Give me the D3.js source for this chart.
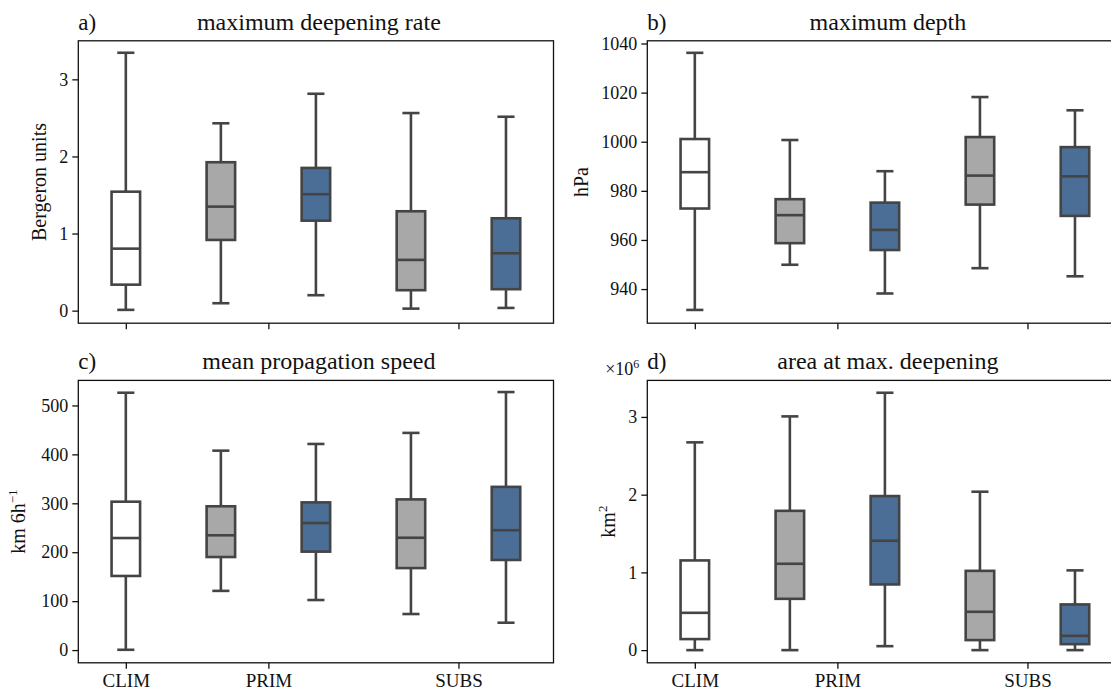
<!DOCTYPE html>
<html>
<head>
<meta charset="utf-8">
<script src="https://cdn.jsdelivr.net/npm/d3@7"></script>
<style>
  html, body { margin: 0; padding: 0; background: #fff; }
  svg { display: block; overflow: hidden; }
  text { font-family: "Liberation Serif", "Times New Roman", Times, "DejaVu Serif", serif; fill: #111; }
</style>
</head>
<body>
<svg id="main-svg"></svg>
<script>
// DATA
const categories = ["CLIM", "PRIM", "SUBS"]
const categoryPositions = [0, 1.5, 3.5]
const boxPositions = [0, 1, 2, 3, 4]
const boxKinds = ["clim", "all", "sel", "all", "sel"]

// [whisker low, q1, median, q3, whisker high]
const rateStats = [
  [0.01, 0.337, 0.804, 1.543, 3.345],
  [0.096, 0.917, 1.349, 1.925, 2.43],
  [0.2, 1.167, 1.51, 1.851, 2.813],
  [0.026, 0.265, 0.658, 1.289, 2.563],
  [0.035, 0.278, 0.744, 1.198, 2.515],
]
const depthStats = [
  [931.5, 972.8, 987.6, 1001.1, 1036.2],
  [949.9, 958.7, 970.1, 976.6, 1000.7],
  [938.2, 955.9, 964.1, 975.2, 988.0],
  [948.5, 974.4, 986.2, 1001.9, 1018.2],
  [945.2, 969.8, 985.9, 997.8, 1012.8],
]
const speedStats = [
  [0.6, 151.5, 229, 303.3, 526],
  [121, 190.2, 234.6, 293.9, 407.6],
  [102.3, 201.2, 259.6, 301.9, 421.3],
  [73.7, 167.6, 229.6, 308, 443.9],
  [55.9, 184.2, 245, 333.6, 527.4],
]
const areaStats = [
  [0, 0.142, 0.48, 1.154, 2.673],
  [0, 0.66, 1.111, 1.792, 3.007],
  [0.051, 0.845, 1.407, 1.982, 3.311],
  [0, 0.129, 0.493, 1.02, 2.038],
  [0, 0.077, 0.184, 0.588, 1.026],
]
const rateTicks = [0, 1, 2, 3]
const depthTicks = [940, 960, 980, 1000, 1020, 1040]
const speedTicks = [0, 100, 200, 300, 400, 500]
const areaTicks = [0, 1, 2, 3]

// FIXED SPACING VARIABLES
const CANVAS_WIDTH = 1111
const CANVAS_HEIGHT = 690
const AXES_WIDTH = 475.2
const AXES_HEIGHT = 282.4
const LEFT_COL_X = 78.3
const RIGHT_COL_X = 647.3
const TOP_ROW_Y = 40.8
const BOTTOM_ROW_Y = 380.4
const BOX_WIDTH = 0.3
const CAP_WIDTH = 0.18
const TICK_LENGTH = 6

// STYLE VARIABLES
const FONT = '"Liberation Serif", "Times New Roman", Times, "DejaVu Serif", serif'
const BOX_FILLS = { clim: "#ffffff", all: "#a8a8a8", sel: "#4b6e96" }
const BOX_LINE_COLOR = "#444444"
const BOX_LINE_WIDTH = 2.6
const AXIS_COLOR = "#111111"

const panels = [
  { letter: "a)", title: "maximum deepening rate", x: LEFT_COL_X, y: TOP_ROW_Y, stats: rateStats,
    domain: [-0.163, 3.5], ticks: rateTicks, label: ["Bergeron units"], labelX: 46, xLabels: false },
  { letter: "b)", title: "maximum depth", x: RIGHT_COL_X, y: TOP_ROW_Y, stats: depthStats,
    domain: [926.1, 1041.1], ticks: depthTicks, label: ["hPa"], labelX: 588, xLabels: false },
  { letter: "c)", title: "mean propagation speed", x: LEFT_COL_X, y: BOTTOM_ROW_Y, stats: speedStats,
    domain: [-26, 551.2], ticks: speedTicks, label: ["km 6h", "\u22121"], labelX: 25, xLabels: true },
  { letter: "d)", title: "area at max. deepening", x: RIGHT_COL_X, y: BOTTOM_ROW_Y, stats: areaStats,
    domain: [-0.163, 3.47], ticks: areaTicks, label: ["km", "2"], labelX: 615, xLabels: true, offset: true },
]

const svg = d3.select("#main-svg")
  .attr("width", CANVAS_WIDTH)
  .attr("height", CANVAS_HEIGHT)

svg.append("rect")
  .attr("width", "100%")
  .attr("height", "100%")
  .attr("fill", "#ffffff")

panels.forEach(drawPanel)

function drawPanel(panel) {
  const x = d3.scaleLinear().domain([-0.5, 4.5]).range([0, AXES_WIDTH])
  const y = d3.scaleLinear().domain(panel.domain).range([AXES_HEIGHT, 0])
  const g = svg.append("g").attr("transform", `translate(${panel.x},${panel.y})`)
  const unit = x(1) - x(0)

  // boxes
  const boxes = g.selectAll("g.box")
    .data(panel.stats)
    .join("g")
    .attr("class", "box")
    .attr("transform", (_, i) => `translate(${x(boxPositions[i])},0)`)

  boxes.append("line")
    .attr("x1", 0).attr("x2", 0)
    .attr("y1", (d) => y(d[0])).attr("y2", (d) => y(d[1]))
  boxes.append("line")
    .attr("x1", 0).attr("x2", 0)
    .attr("y1", (d) => y(d[3])).attr("y2", (d) => y(d[4]))
  boxes.append("line")
    .attr("x1", -CAP_WIDTH * unit / 2).attr("x2", CAP_WIDTH * unit / 2)
    .attr("y1", (d) => y(d[0])).attr("y2", (d) => y(d[0]))
  boxes.append("line")
    .attr("x1", -CAP_WIDTH * unit / 2).attr("x2", CAP_WIDTH * unit / 2)
    .attr("y1", (d) => y(d[4])).attr("y2", (d) => y(d[4]))
  boxes.append("rect")
    .attr("x", -BOX_WIDTH * unit / 2)
    .attr("width", BOX_WIDTH * unit)
    .attr("y", (d) => y(d[3]))
    .attr("height", (d) => y(d[1]) - y(d[3]))
    .attr("fill", (_, i) => BOX_FILLS[boxKinds[i]])
  boxes.append("line")
    .attr("x1", -BOX_WIDTH * unit / 2).attr("x2", BOX_WIDTH * unit / 2)
    .attr("y1", (d) => y(d[2])).attr("y2", (d) => y(d[2]))

  boxes.selectAll("line, rect")
    .attr("stroke", BOX_LINE_COLOR)
    .attr("stroke-width", BOX_LINE_WIDTH)

  // frame
  g.append("rect")
    .attr("width", AXES_WIDTH)
    .attr("height", AXES_HEIGHT)
    .attr("fill", "none")
    .attr("stroke", AXIS_COLOR)
    .attr("stroke-width", 1.3)

  // y axis
  const yAxis = g.append("g")
    .call(d3.axisLeft(y).tickValues(panel.ticks).tickSize(TICK_LENGTH).tickPadding(4).tickFormat(d3.format("d")))
  yAxis.attr("font-family", FONT)
  yAxis.select(".domain").remove()
  yAxis.selectAll(".tick line").attr("stroke", AXIS_COLOR).attr("stroke-width", 1.3)
  yAxis.selectAll(".tick text")
    .attr("fill", "#111")
    .attr("font-family", FONT)
    .attr("font-size", 18)

  // x axis
  const xAxis = g.append("g")
    .attr("transform", `translate(0,${AXES_HEIGHT})`)
    .call(d3.axisBottom(x).tickValues(categoryPositions).tickSize(TICK_LENGTH).tickPadding(5)
      .tickFormat((_, i) => panel.xLabels ? categories[i] : ""))
  xAxis.attr("font-family", FONT)
  xAxis.select(".domain").remove()
  xAxis.selectAll(".tick line").attr("stroke", AXIS_COLOR).attr("stroke-width", 1.3)
  xAxis.selectAll(".tick text")
    .attr("fill", "#111")
    .attr("font-family", FONT)
    .attr("font-size", 19)

  // title and panel letter
  g.append("text")
    .attr("x", AXES_WIDTH / 2 + 3)
    .attr("y", -11)
    .attr("text-anchor", "middle")
    .attr("font-family", FONT)
    .attr("font-size", 24)
    .text(panel.title)
  g.append("text")
    .attr("x", 0)
    .attr("y", -11)
    .attr("font-family", FONT)
    .attr("font-size", 23)
    .text(panel.letter)

  // y label
  const label = svg.append("text")
    .attr("transform", `translate(${panel.labelX},${panel.y + AXES_HEIGHT / 2}) rotate(-90)`)
    .attr("text-anchor", "middle")
    .attr("font-family", FONT)
    .attr("font-size", 20)
  label.append("tspan").text(panel.label[0])
  if (panel.label[1]) {
    label.append("tspan")
      .attr("dy", -8)
      .attr("font-size", 13)
      .text(panel.label[1])
  }

  if (panel.offset) {
    const off = g.append("text")
      .attr("x", -8)
      .attr("y", -5)
      .attr("text-anchor", "end")
      .attr("font-family", FONT)
      .attr("font-size", 18)
    off.append("tspan").text("\u00d710")
    off.append("tspan").attr("dy", -7).attr("font-size", 12).text("6")
  }
}
</script>
</body>
</html>
